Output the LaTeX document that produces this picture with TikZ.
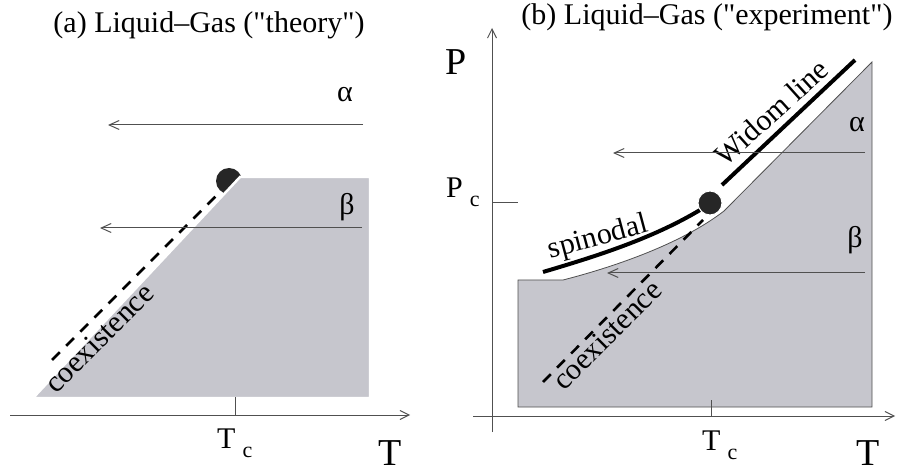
\documentclass[tikz,border=0pt]{standalone}
\usepackage{fontspec}
\setmainfont{Liberation Serif}
\usetikzlibrary{arrows.meta}
\definecolor{phasegray}{RGB}{198,198,205}
\definecolor{axisgray}{RGB}{80,80,80}
\newcommand{\critsub}{\hspace{7pt}\raisebox{-9pt}{\fontsize{22}{22}\selectfont c}}

\begin{document}
\begin{tikzpicture}[
    x=1pt, y=-1pt,
    lbl/.style={inner sep=0pt, font=\fontsize{30}{30}\selectfont},
    biglbl/.style={inner sep=0pt, font=\fontsize{38}{38}\selectfont},
    axisline/.style={-{Straight Barb[length=9pt,width=9pt]}, line width=1pt, draw=axisgray},
    sweep/.style={-{Straight Barb[length=10pt,width=9pt]}, line width=1pt, draw=axisgray},
    tickmark/.style={line width=1pt, draw=axisgray},
    coex/.style={line width=2.6pt, dash pattern=on 11pt off 9pt},
    thickline/.style={line width=4pt},
    crit/.style={circle, fill=black!85, inner sep=0pt}
  ]
  \useasboundingbox (0,0) rectangle (897,470);

  % (a) theory
  \node[lbl, anchor=base] (ta) at (209,33) {(a) Liquid--Gas (\textquotedbl theory\textquotedbl)};
  \node[crit, minimum size=26pt] (cpa) at (229,181) {};
  \fill[phasegray, draw=white, line width=2.5pt]
    (33,398) -- (240,177) -- (370,177) -- (370,398) -- cycle;
  \coordinate (ca0) at (52,360);
  \coordinate (ca1) at (220,192);
  \draw[coex] (ca0) -- (ca1);
  \node[lbl, anchor=base, rotate=45] (coexa) at (106,345) {coexistence};
  \coordinate (aa0) at (363,125);
  \coordinate (aa1) at (108,125);
  \draw[sweep] (aa0) -- (aa1);
  \node[lbl] (alphaa) at (345,95) {α};
  \coordinate (ba0) at (362,228);
  \coordinate (ba1) at (100,228);
  \draw[sweep] (ba0) -- (ba1);
  \node[lbl] (betaa) at (347,207) {β};
  \coordinate (xa0) at (10,415);
  \coordinate (xa1) at (410,415);
  \draw[axisline] (xa0) -- (xa1);
  \draw[tickmark] (235,415) -- (235,397);
  \node[lbl, anchor=base west] (tca) at (217,448) {T\critsub};
  \node[biglbl, anchor=base] (tbiga) at (390,465) {T};

  % (b) experiment
  \node[lbl, anchor=base] (tb) at (707,25) {(b) Liquid--Gas (\textquotedbl experiment\textquotedbl)};
  \fill[phasegray, draw=axisgray, line width=0.8pt]
    (518,407) -- (872,407) -- (872,62) -- (724,211)
    .. controls (680,245) and (610,268) .. (563,280) -- (518,280) -- cycle;
  \coordinate (cb0) at (543,382);
  \coordinate (cb1) at (703,220);
  \draw[coex] (cb0) -- (cb1);
  \node[lbl, anchor=base, rotate=45] (coexb) at (614,342) {coexistence};
  \coordinate (sp0) at (543,272);
  \coordinate (sp1) at (700,210);
  \draw[thickline] (sp0) .. controls (590,258) and (650,240) .. (sp1);
  \node[lbl, anchor=base, rotate=15] (spin) at (600,245) {spinodal};
  \coordinate (wl0) at (722,185);
  \coordinate (wl1) at (855,60);
  \draw[thickline] (wl0) -- (wl1);
  \node[lbl, anchor=base, rotate=42] (widom) at (778,120) {Widom line};
  \coordinate (ab0) at (865,153);
  \coordinate (ab1) at (613,153);
  \draw[sweep] (ab0) -- (ab1);
  \node[lbl] (alphab) at (857,125) {α};
  \coordinate (bb0) at (865,273);
  \coordinate (bb1) at (607,273);
  \draw[sweep] (bb0) -- (bb1);
  \node[lbl] (betab) at (855,240) {β};
  \node[crit, minimum size=24pt, draw=white, line width=1pt] (cpb) at (710,203) {};
  \coordinate (xb0) at (473,416);
  \coordinate (xb1) at (895,416);
  \draw[axisline] (xb0) -- (xb1);
  \coordinate (yb0) at (492,432);
  \coordinate (yb1) at (492,28);
  \draw[axisline] (yb0) -- (yb1);
  \draw[tickmark] (492,203) -- (518,203);
  \draw[tickmark] (711,416) -- (711,400);
  \node[lbl, anchor=base west] (pc) at (446,198) {P\critsub};
  \node[biglbl, anchor=base] (pbig) at (456,75) {P};
  \node[lbl, anchor=base west] (tcb) at (702,450) {T\critsub};
  \node[biglbl, anchor=base] (tbigb) at (868,465) {T};
\end{tikzpicture}
\end{document}
